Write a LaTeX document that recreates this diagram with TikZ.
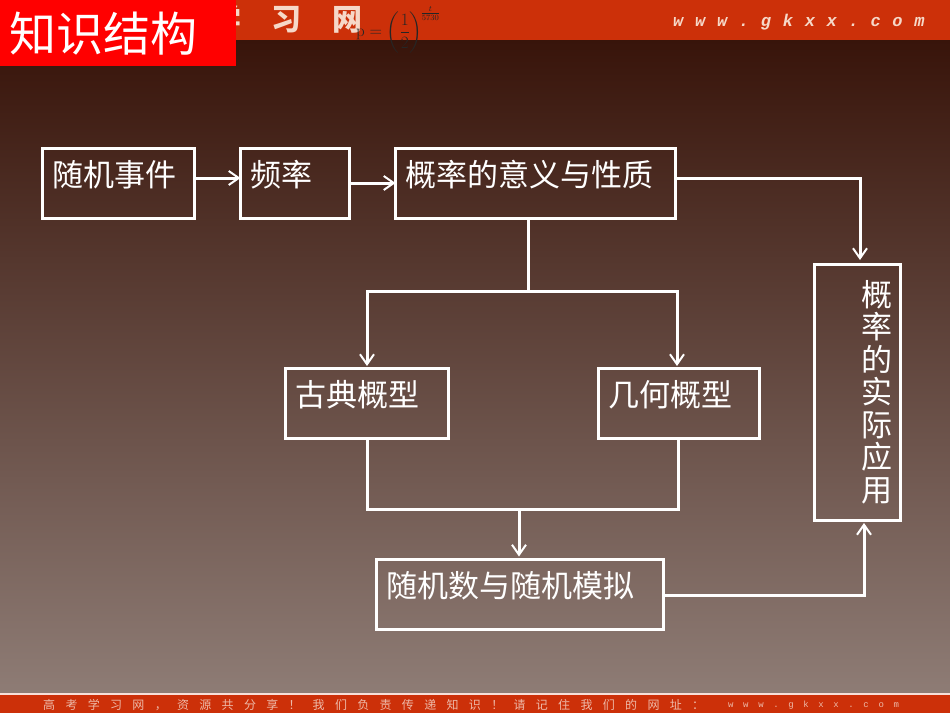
\documentclass[tikz,border=0pt]{standalone}
\usepackage{fontspec}
\usepackage{amsmath}
\usetikzlibrary{arrows.meta,positioning,calc}
\newfontfamily\cjk{Noto Sans CJK SC}
\newfontfamily\cjkbanner[LetterSpace=103]{Noto Sans CJK SC}
\newfontfamily\cjkfooter[LetterSpace=86]{Noto Sans CJK SC}
\newfontfamily\webfont[LetterSpace=69]{Liberation Mono}
\newfontfamily\webfootfont[LetterSpace=107]{Liberation Mono}
\definecolor{bandred}{HTML}{CC3009}
\definecolor{bandtext}{HTML}{F6D8C8}
\definecolor{foottext}{HTML}{EDB9A8}
\definecolor{bgtop}{HTML}{38140A}
\definecolor{bgmid}{HTML}{5E3D32}
\definecolor{bgbottom}{HTML}{8E7C75}

\begin{document}
\begin{tikzpicture}[
    x=1pt, y=-1pt,
    box/.style={rectangle, draw=white, line width=3pt, outer sep=0pt, inner xsep=10pt, inner ysep=0pt, text=white, align=left, font=\cjk\fontsize{31}{36}\selectfont},
    flatbox/.style={box, text height=38pt, text depth=32pt},
    arrow/.style={-{Straight Barb[length=10pt,width=14pt,line width=2pt]}, draw=white, line width=3pt},
    wire/.style={draw=white, line width=3pt}
]
    \useasboundingbox (0,0) rectangle (950,713);
    % background and bands
    \shade[top color=bgtop, middle color=bgmid, bottom color=bgbottom] (0,40) rectangle (950,693);
    \fill[bandred] (0,0) rectangle (950,40);
    \fill[bandred] (0,695) rectangle (950,713);
    \fill[white!85!bandred] (0,692.5) rectangle (950,695);

    \node[text=bandtext, font=\cjkbanner\bfseries\fontsize{30}{30}\selectfont, inner sep=0pt] (banner) at (287,19) {学习网};
    \node[text=bandtext, font=\webfont\bfseries\itshape\fontsize{17}{17}\selectfont, inner sep=0pt, anchor=west] (web) at (673,22) {www.gkxx.com};
    \node[text=foottext, font=\cjkfooter\fontsize{12}{12}\selectfont, inner sep=0pt, anchor=west] (foot) at (43,705) {高考学习网，资源共分享！\hspace{12pt}我们负责传递知识！请记住我们的网址：};
    \node[text=foottext, font=\webfootfont\fontsize{9}{9}\selectfont, inner sep=0pt, anchor=west] (footweb) at (728,705) {www.gkxx.com};

    \node[fill=red, text=white, anchor=north west, inner xsep=9pt, inner ysep=0pt, text width=218pt, minimum height=66pt, font=\cjk\fontsize{47}{50}\selectfont] (title) at (0,0) {知识结构};
    \node[text=black!85, inner sep=0pt, anchor=west, font=\fontsize{17}{20}\selectfont] (formula) at (356,30) {$\mathrm{p}=\left(\dfrac{1}{2}\right)^{\!\frac{t}{5730}}$};

    % boxes
    \node[flatbox, text width=132pt, anchor=north west] (event) at (42.5,148) {随机事件};
    \node[flatbox, text width=89pt, right=46pt of event] (freq) {频率};
    \node[flatbox, text width=260pt, right=46pt of freq] (meaning) {概率的意义与性质};
    \node[flatbox, text width=143pt, anchor=north west] (classic) at (285.5,368) {古典概型};
    \node[flatbox, text width=141pt, anchor=north west] (geom) at (598.5,368) {几何概型};
    \node[flatbox, text width=267pt, anchor=north west] (sim) at (376.5,559.5) {随机数与随机模拟};
    \node[box, inner xsep=8pt, text width=70pt, minimum height=256pt, align=right, anchor=north west, font=\cjk\fontsize{31}{32.5}\selectfont] (apply) at (814.5,264) {概\\率\\的\\实\\际\\应\\用\\[12pt]};

    % junctions
    \coordinate (fork) at (528,291);
    \coordinate (merge) at (519,509);
    \coordinate (outtop) at (860,178);
    \coordinate (outbot) at (864,595);

    \draw[arrow] (event.east |- 0,178) -- (freq.west |- 0,178);
    \draw[arrow] (freq.east |- 0,183) -- (meaning.west |- 0,183);
    \draw[arrow] (meaning.east |- outtop) -- (outtop) -- ($(apply.north -| outtop)+(0,-4)$);
    \draw[wire] (meaning.south -| fork) -- (fork);
    \draw[arrow] (fork) -| ($(classic.north -| 367,0)+(0,-2)$);
    \draw[arrow] (fork) -| ($(geom.north -| 677,0)+(0,-2)$);
    \draw[wire] (classic.south -| 367,0) |- (merge);
    \draw[wire] (geom.south -| 678,0) |- (merge);
    \draw[arrow] (merge) -- ($(sim.north -| merge)+(0,-3)$);
    \draw[arrow] (sim.east |- outbot) -- (outbot) -- ($(apply.south -| outbot)+(0,3)$);
\end{tikzpicture}
\end{document}
